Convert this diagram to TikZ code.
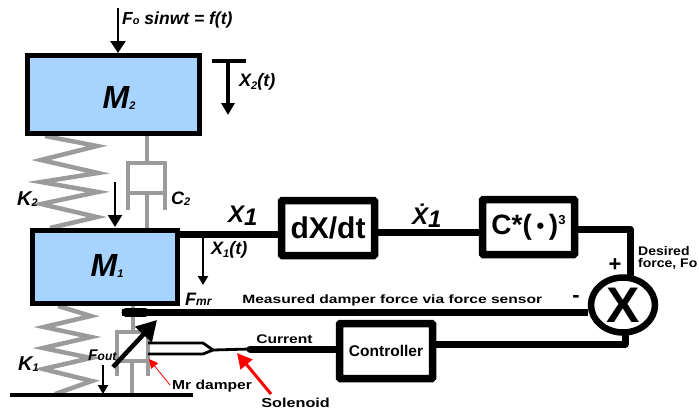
\documentclass[tikz,border=0pt]{standalone}
\usepackage{fontspec}
\setmainfont{Liberation Sans}
\usetikzlibrary{arrows.meta,shapes.geometric}
\definecolor{massblue}{RGB}{166,212,255}
\definecolor{mech}{RGB}{155,155,155}
\tikzset{
 mass/.style={draw=black,fill=massblue,line width=5pt,inner sep=0pt},
 blockbox/.style={draw=black,line width=7.5pt,rounded corners=1pt,inner sep=0pt,font=\bfseries},
 wire/.style={line width=7pt,line join=round},
 gray line/.style={draw=mech,line width=4.5pt,line join=miter},
 force/.style={line width=2.5pt,-{Triangle[length=12pt,width=15pt]}},
 smallforce/.style={line width=2.3pt,-{Triangle[length=9pt,width=10pt]}},
 lab/.style={font=\bfseries\itshape,inner sep=0pt,anchor=west},
 plain/.style={font=\bfseries,inner sep=0pt,anchor=west},
}
\newcommand{\sm}[1]{{\fontsize{11}{11}\selectfont #1}}
\begin{document}
\begin{tikzpicture}[x=1pt,y=-1pt]
\useasboundingbox (0,0) rectangle (699,410);
% springs
\coordinate (s2a) at (45,136);
\coordinate (s1a) at (58,306);
\draw[gray line] (s2a) -- (97,146) -- (41,160) -- (98,173) -- (41,182) -- (98,192) -- (41,204) -- (97,217) -- (50,228);
\draw[gray line] (s1a) -- (91,316) -- (44,327) -- (91,337) -- (43,348) -- (91,358) -- (43,369) -- (92,381) -- (55,394);
% upper damper
\coordinate (d2top) at (147,136);
\coordinate (d2cap) at (147,163);
\coordinate (d2pis) at (147,193);
\coordinate (d2bot) at (147,228);
\draw[gray line] (d2top) -- (d2cap);
\draw[gray line] (128,210) -- (128,163) -- (165,163) -- (165,210);
\draw[gray line] (128,193) -- (165,193);
\draw[gray line] (d2pis) -- (d2bot);
% lower damper
\coordinate (d1top) at (133,306);
\coordinate (d1cap) at (133,332);
\coordinate (d1pis) at (132,361);
\coordinate (d1bot) at (132,394);
\draw[gray line] (d1top) -- (d1cap);
\draw[gray line] (117,376) -- (117,332) -- (148,332) -- (148,376);
\draw[gray line] (117,361) -- (148,361);
\draw[gray line] (d1pis) -- (d1bot);
% masses
\node[mass,minimum width=172pt,minimum height=78pt] (M2) at (113.5,94.5) {};
\node[font=\bfseries\itshape\fontsize{32}{32}\selectfont,inner sep=0pt] (M2t) at (119,98) {M\raisebox{-1pt}{\sm{2}}};
\node[mass,minimum width=145pt,minimum height=73pt] (M1) at (105,267) {};
\node[font=\bfseries\itshape\fontsize{32}{32}\selectfont,inner sep=0pt] (M1t) at (107,266) {M\raisebox{-1pt}{\sm{1}}};
% ground
\coordinate (g1) at (10,395);
\coordinate (g2) at (193,395);
\draw[line width=4pt] (g1) -- (g2);
% blocks
\node[blockbox,minimum width=93pt,minimum height=55pt,font=\bfseries\fontsize{30}{30}\selectfont] (dx) at (328,228) {dX/dt};
\node[blockbox,minimum width=92pt,minimum height=55pt,font=\bfseries\fontsize{28}{28}\selectfont] (cb) at (528.5,227) {C*(\,\raisebox{1pt}{\fontsize{22}{22}\selectfont\textbullet}\,)\raisebox{10pt}{\fontsize{13}{13}\selectfont 3}};
\node[blockbox,minimum width=93pt,minimum height=55pt,font=\bfseries\fontsize{15.5}{15.5}\selectfont] (ctrl) at (386,351) {Controller};
\node[ellipse,draw=black,line width=6.5pt,minimum width=64pt,minimum height=55pt,inner sep=0pt] (sum) at (623,305) {};
\node[font=\bfseries\fontsize{50}{50}\selectfont,inner sep=0pt] (sumx) at (623,305) {X};
% wires
\coordinate (m1out) at (180,234);
\draw[wire] (m1out) -- (dx.west |- m1out);
\draw[wire] (dx.east |- 0,232) -- (cb.west |- 0,232);
\draw[wire] (cb.east |- 0,229) -- (630,229) -- (630,279);
\coordinate (sensor) at (122,312);
\draw[line width=9pt,line cap=round] (126,312) -- (145,312);
\draw[wire] (sensor) -- (sum.west |- sensor);
\draw[wire] (ctrl.east |- 0,344) -- (625,344) -- (625,331);
\coordinate (cur) at (250,349);
\draw[wire,line cap=round] (cur) -- (ctrl.west |- cur);
% solenoid wires
\coordinate (fork) at (213,350);
\draw[line width=2.8pt,line join=round] (148,343) -- (203,343) -- (fork) -- (203,354) -- (148,354);
\draw[line width=2.8pt] (fork) -- (cur);
% arrows
\coordinate (f0a) at (118,8);
\draw[force] (f0a) -- (M2.north -| f0a);
\node[lab,font=\bfseries\itshape\fontsize{17.5}{17.5}\selectfont] (f0t) at (122,20) {F\sm{o} sinwt = f(t)};
\coordinate (x2a) at (228,61);
\coordinate (x2b) at (228,115);
\draw[line width=4pt] (212,61) -- (246,61);
\draw[line width=3.2pt,-{Triangle[length=12pt,width=13pt]}] (x2a) -- (x2b);
\node[lab,font=\bfseries\itshape\fontsize{18}{18}\selectfont] (x2t) at (239,82) {X\raisebox{-3pt}{\sm{2}}(t)};
\coordinate (m1in) at (115,182);
\draw[smallforce,-{Triangle[length=12pt,width=14pt]}] (m1in) -- (115,227);
\coordinate (x1a) at (203,236);
\coordinate (x1b) at (203,285);
\draw[smallforce] (x1a) -- (x1b);
\node[lab,font=\bfseries\itshape\fontsize{18}{18}\selectfont] (x1tt) at (211,250) {X\raisebox{-3pt}{\sm{1}}(t)};
\coordinate (foa) at (113,367);
\coordinate (fob) at (157,320);
\draw[line width=4.5pt,-{Triangle[length=20pt,width=22pt]}] (foa) -- (fob);
\coordinate (fsa) at (103,365);
\coordinate (fsb) at (103,394);
\draw[smallforce] (fsa) -- (fsb);
\coordinate (ra) at (170,385);
\coordinate (rb) at (149,359);
\draw[red,line width=.8pt,-{Triangle[length=9pt,width=9pt]}] (ra) -- (rb);
\coordinate (sa) at (271,394);
\coordinate (sb) at (237,353);
\draw[red,line width=3pt,-{Triangle[length=15pt,width=15pt]}] (sa) -- (sb);
% labels
\node[lab,font=\bfseries\itshape\fontsize{20}{20}\selectfont] (k2) at (17,199) {K\raisebox{-1pt}{\sm{2}}};
\node[lab,font=\bfseries\itshape\fontsize{20}{20}\selectfont] (k1) at (18,364) {K\raisebox{-1pt}{\sm{1}}};
\node[lab,font=\bfseries\itshape\fontsize{18}{18}\selectfont] (c2) at (171,199) {C\raisebox{-1pt}{\sm{2}}};
\node[lab,font=\bfseries\itshape\fontsize{24}{24}\selectfont] (x1) at (228,216) {X\raisebox{-3pt}{1}};
\node[lab,font=\bfseries\itshape\fontsize{24}{24}\selectfont] (xd) at (412,216) {\.{X}\raisebox{-3pt}{1}};
\node[lab,font=\bfseries\itshape\fontsize{18}{18}\selectfont] (fmr) at (185,299) {F{\fontsize{12}{12}\selectfont mr}};
\node[lab,font=\bfseries\itshape\fontsize{15.5}{15.5}\selectfont] (fout) at (88,355) {F{\fontsize{12}{12}\selectfont out}};
\node[plain,font=\bfseries\fontsize{12}{14}\selectfont,xscale=1.3] (meas) at (242,300) {Measured damper force via force sensor};
\node[plain,font=\bfseries\fontsize{12.5}{14}\selectfont,xscale=1.25] (curr) at (256,339) {Current};
\node[plain,font=\bfseries\fontsize{13}{14}\selectfont,xscale=1.2] (mr) at (172,386) {Mr damper};
\node[plain,font=\bfseries\fontsize{13}{14}\selectfont,xscale=1.25] (sol) at (261,403) {Solenoid};
\node[plain,font=\bfseries\fontsize{12.5}{12.5}\selectfont,xscale=1.12,align=left] (des) at (638,258) {Desired\\[-1.2pt]force, Fo};
\node[font=\bfseries\fontsize{22}{22}\selectfont,inner sep=0pt] (plus) at (615,265) {+};
\node[font=\bfseries\fontsize{22}{22}\selectfont,inner sep=0pt] (minus) at (576,299) {-};
\end{tikzpicture}
\end{document}
